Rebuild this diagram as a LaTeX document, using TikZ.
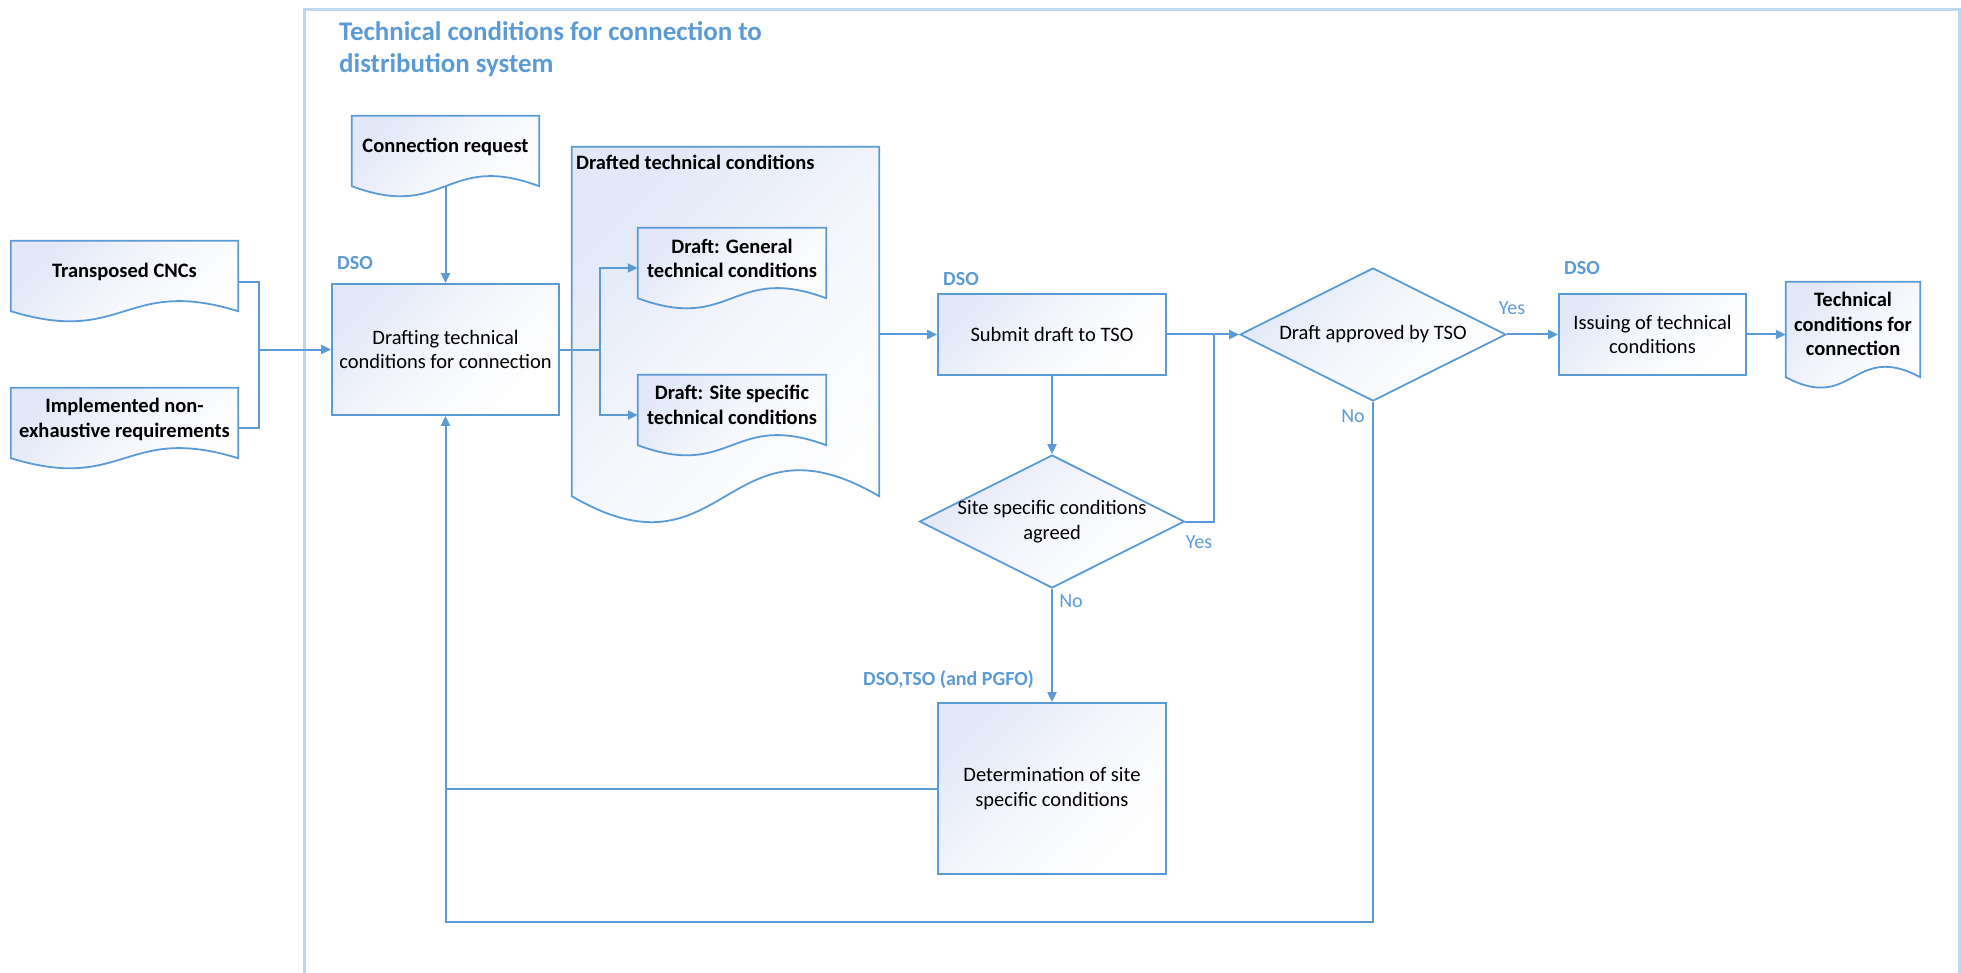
\documentclass[tikz,border=0pt]{standalone}
\usepackage{fontspec}
\setmainfont{Carlito}
\usetikzlibrary{arrows.meta,shapes.geometric,calc}
\definecolor{lblue}{RGB}{91,155,213}
\definecolor{frameblue}{RGB}{189,215,238}
\definecolor{fillblue}{RGB}{226,232,247}
\newcommand{\bodyfont}{\fontsize{20.5}{24.5}\selectfont}
\newcommand{\docpath}[2]{%
  \path[docfill] (#1.north west) -- (#1.south west)
    .. controls ($(#1.south)+(0,#2)$) and ($(#1.south)+(0,-#2)$) .. (#1.south east)
    -- (#1.north east) -- cycle;}
\begin{document}
\begin{tikzpicture}[x=1pt,y=-1pt,
  every node/.style={font=\bodyfont},
  boxfill/.style={draw=lblue, line width=1.8pt, top color=fillblue, bottom color=white, middle color=fillblue!35!white, shading angle=45},
  procbox/.style={rectangle, boxfill, inner sep=0pt, align=center},
  docbox/.style={rectangle, inner sep=0pt},
  docfill/.style={boxfill},
  decision/.style={diamond, boxfill, inner sep=0pt},
  txt/.style={align=center, inner sep=0pt},
  btxt/.style={align=center, inner sep=0pt, font=\bodyfont\bfseries},
  role/.style={inner sep=0pt, text=lblue, font=\fontsize{20}{24}\selectfont\bfseries},
  yesno/.style={inner sep=0pt, text=lblue, font=\fontsize{20}{24}\selectfont},
  titletxt/.style={inner sep=0pt, text=lblue, font=\fontsize{26.9}{31}\selectfont\bfseries},
  conn/.style={draw=lblue, line width=2pt},
  arr/.style={conn, -{Triangle[length=10pt,width=9pt]}}
]
\useasboundingbox (0,0) rectangle (1961,973);
% outer frame
\draw[frameblue, line width=3.5pt] (304.5,990) -- (304.5,9.5) -- (1959.5,9.5) -- (1959.5,990);
\node[titletxt, anchor=base west] (title1) at (339,41) {Technical conditions for connection to};
\node[titletxt, anchor=base west] (title2) at (339,72.5) {distribution system};

% document shapes
\node[docbox, minimum width=227pt, minimum height=70pt] (tcnc) at (124.5,276) {};
\docpath{tcnc}{35}
\node[btxt] (tcnc-t) at ([yshift=4pt]tcnc.center) {Transposed CNCs};

\node[docbox, minimum width=227pt, minimum height=70pt] (impl) at (124.5,423) {};
\docpath{impl}{35}
\node[btxt] (impl-t) at ([yshift=3.5pt]impl.center) {Implemented non-\\exhaustive requirements};

\node[docbox, minimum width=187pt, minimum height=70pt] (creq) at (445.5,151) {};
\docpath{creq}{35}
\node[btxt] (creq-t) at ([yshift=4pt]creq.center) {Connection request};

\node[docbox, minimum width=307pt, minimum height=349pt] (dtc) at (725.5,321.5) {};
\docpath{dtc}{90}
\node[btxt, anchor=base west] (dtc-t) at (576,169.5) {Drafted technical conditions};

\node[docbox, minimum width=188pt, minimum height=70pt] (dgen) at (732,263) {};
\docpath{dgen}{35}
\node[btxt] (dgen-t) at ([yshift=4.5pt]dgen.center) {Draft: General\\technical conditions};

\node[docbox, minimum width=188pt, minimum height=70pt] (dsite) at (732,410) {};
\docpath{dsite}{35}
\node[btxt] (dsite-t) at ([yshift=5pt]dsite.center) {Draft: Site specific\\technical conditions};

\node[docbox, minimum width=134pt, minimum height=95pt] (final) at (1853,329.5) {};
\docpath{final}{36}
\node[btxt] (final-t) at ([yshift=5.5pt]final.center) {Technical\\conditions for\\connection};

% process boxes
\node[procbox, minimum width=227pt, minimum height=131pt] (draft) at (445.5,349.5) {Drafting technical\\conditions for connection};
\node[procbox, minimum width=228pt, minimum height=81pt] (submit) at (1052,334.5) {Submit draft to TSO};
\node[procbox, minimum width=187pt, minimum height=81pt] (issue) at (1652.5,334.5) {Issuing of technical\\conditions};
\node[procbox, minimum width=228pt, minimum height=171pt] (det) at (1052,788.5) {Determination of site\\specific conditions};

% decisions
\node[decision, minimum width=265pt, minimum height=133pt] (site) at (1052,521.5) {};
\node[txt] (site-t) at (site) {Site specific conditions\\agreed};
\node[decision, minimum width=266pt, minimum height=133pt] (appr) at (1373,334.5) {};
\node[txt] (appr-t) at (appr) {Draft approved by TSO};

% role labels
\node[role, anchor=base west] (dso1) at (337,269.5) {DSO};
\node[role, anchor=base west] (dso2) at (943,285.5) {DSO};
\node[role, anchor=base west] (dso3) at (1564,274.5) {DSO};
\node[role, anchor=base east] (dtp) at (1034,685.5) {DSO,TSO (and PGFO)};

% junctions
\coordinate (jA) at (259,349.5);
\coordinate (jB) at (600,349.5);
\coordinate (jC) at (1214,334.5);
\coordinate (loop) at (1373,922);

% connectors
\draw[conn] ([yshift=-6pt]tcnc.east) -| (jA);
\draw[conn] ([yshift=-5pt]impl.east) -| (jA);
\draw[arr] (jA) -- (draft.west);
\draw[arr] (creq.south) -- (draft.north);
\draw[conn] (draft.east) -- (jB);
\draw[arr] (jB) |- ([yshift=-5pt]dgen.west);
\draw[arr] (jB) |- ([yshift=-5pt]dsite.west);
\draw[arr] (dtc.east |- submit.west) -- (submit.west);
\draw[arr] (submit.east) -- (appr.west);
\draw[arr] (submit.south) -- (site.north);
\draw[conn] (site.east) -| (jC);
\draw[arr] (site.south) -- (det.north);
\draw[conn] (det.west) -- (det.west -| draft.south);
\draw[arr] (appr.south) -- (loop) -| (draft.south);
\draw[arr] (appr.east) -- (issue.west);
\draw[arr] (issue.east) -- (final.west |- issue.east);

% yes / no labels
\node[yesno, anchor=base] (yes1) at (1199,548.5) {Yes};
\node[yesno, anchor=base] (no1) at (1071,607.5) {No};
\node[yesno, anchor=base] (no2) at (1353,422.5) {No};
\node[yesno, anchor=base] (yes2) at (1512,314.5) {Yes};
\end{tikzpicture}
\end{document}
